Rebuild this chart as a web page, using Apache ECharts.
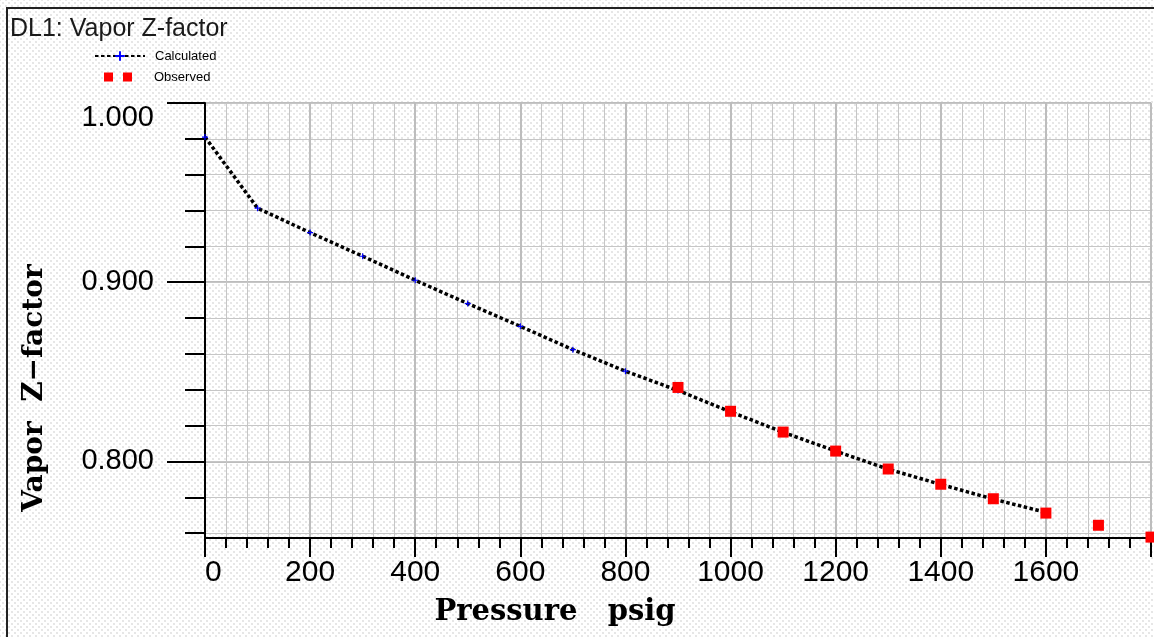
<!DOCTYPE html>
<html>
<head>
<meta charset="utf-8">
<script src="https://cdn.jsdelivr.net/npm/echarts@6/dist/echarts.min.js"></script>
<style>
html,body{margin:0;padding:0;width:1154px;height:637px;overflow:hidden;background:#fff;}
#wrap{position:relative;width:1154px;height:637px;background-color:#fff;
  background-image:radial-gradient(circle,#d9d9d9 0.6px,transparent 0.9px),radial-gradient(circle,#d9d9d9 0.6px,transparent 0.9px);
  background-size:6px 6px;background-position:0 0,3px 3px;}
#chart{position:absolute;left:0;top:0;width:1154px;height:637px;}
#frame{position:absolute;left:6px;top:7px;width:1200px;height:700px;border-left:2px solid #222;border-top:2px solid #222;pointer-events:none;}
</style>
</head>
<body>
<div id="wrap"><div id="chart"></div><div id="frame"></div></div>
<script>
// ---- data ----
const calcPressure = [0, 100, 200, 300, 400, 500, 600, 700, 800, 900, 1000, 1100, 1200, 1300, 1400, 1500, 1600];
const calcZ = [0.9810, 0.9413, 0.9277, 0.9145, 0.9011, 0.8881, 0.8754, 0.8624, 0.8504, 0.8396, 0.8277, 0.8163, 0.8058, 0.7957, 0.7872, 0.7790, 0.7716];
const obsPressure = [900, 1000, 1100, 1200, 1300, 1400, 1500, 1600, 1700, 1800];
const obsZ = [0.8413, 0.8280, 0.8164, 0.8058, 0.7958, 0.7873, 0.7792, 0.7712, 0.7644, 0.7578];
const xLabelValues = [0, 200, 400, 600, 800, 1000, 1200, 1400, 1600];
const yLabelValues = [0.8, 0.9, 1.0];
const yMinorValues = [0.76, 0.78, 0.80, 0.82, 0.84, 0.86, 0.88, 0.90, 0.92, 0.94, 0.96, 0.98, 1.0];
const xMin = 0, xMax = 1800, xMajorStep = 200;
const yMin = 0.7573, yMax = 1.0;

const chart = echarts.init(document.getElementById('chart'), null, {renderer: 'canvas'});
const plusPath = 'path://M2,0h1v5h-1z M0,2h5v1h-5z';
const sans = '"Liberation Sans", Arial, sans-serif';
const serif = '"DejaVu Serif", "Liberation Serif", serif';

const option = {
  backgroundColor: 'transparent',
  animation: false,
  title: {
    text: 'DL1: Vapor Z-factor', left: 10, top: 17, padding: 0,
    textStyle: {fontFamily: sans, fontSize: 25, fontWeight: 'normal', color: '#1a1a1a'}
  },
  legend: [
    {
      data: ['Calculated'], left: 94, top: 49.5, padding: 0, orient: 'vertical',
      itemWidth: 50, itemHeight: 12, selectedMode: false,
      textStyle: {fontFamily: sans, fontSize: 13, color: '#000', padding: [0, 0, 0, 5]}
    },
    {
      data: [{name: 'Observed', icon: 'path://M0,0h9v9h-9z M19,0h9v9h-9z'}], left: 104, top: 70.5, padding: 0,
      itemWidth: 28, itemHeight: 9, selectedMode: false,
      textStyle: {fontFamily: sans, fontSize: 13, color: '#000', padding: [0, 0, 0, 17]}
    }
  ],
  grid: {left: 205, top: 103, right: 3, bottom: 99, containLabel: false},
  xAxis: [{
    type: 'value', min: xMin, max: xMax, interval: xMajorStep,
    axisLine: {show: true, onZero: false, lineStyle: {color: '#000', width: 2}},
    axisTick: {show: true, length: 19, lineStyle: {color: '#000', width: 2}},
    minorTick: {show: true, splitNumber: 5, length: 10, lineStyle: {color: '#000', width: 2}},
    axisLabel: {
      customValues: xLabelValues, alignMinLabel: 'left',
      formatter: v => String(v),
      fontFamily: sans, fontSize: 30, color: '#000', margin: 20
    },
    splitLine: {show: true, lineStyle: {color: '#bdbdbd', width: 2}},
    minorSplitLine: {show: true, lineStyle: {color: '#c6c6c6', width: 1}}
  }],
  yAxis: [
    {
      type: 'value', min: yMin, max: yMax, position: 'left',
      axisLine: {show: true, onZero: false, lineStyle: {color: '#000', width: 2}},
      axisTick: {show: true, length: 38, customValues: yLabelValues, lineStyle: {color: '#000', width: 2}},
      axisLabel: {
        customValues: yLabelValues, verticalAlignMaxLabel: 'top',
        formatter: v => v.toFixed(3),
        fontFamily: sans, fontSize: 29, color: '#000', margin: 51
      },
      splitLine: {show: true, lineStyle: {color: '#bdbdbd', width: 2}}
    },
    {
      type: 'value', min: yMin, max: yMax, position: 'left',
      axisLine: {show: false},
      axisTick: {show: true, length: 20, customValues: yMinorValues, lineStyle: {color: '#000', width: 2}},
      axisLabel: {show: false},
      splitLine: {show: true, lineStyle: {color: '#c6c6c6', width: 1}}
    }
  ],
  graphic: [
    {
      type: 'text', x: 35, y: 388, rotation: Math.PI / 2, silent: true,
      style: {text: 'Vapor  Z\u2212factor', fontFamily: serif, fontSize: 28, fontWeight: 'bold', fill: '#000', align: 'center', verticalAlign: 'middle'}
    },
    {
      type: 'text', x: 555, y: 612, silent: true,
      style: {text: 'Pressure   psig', fontFamily: serif, fontSize: 29, fontWeight: 'bold', fill: '#000', align: 'center', verticalAlign: 'middle'}
    }
  ],
  series: [
    {
      name: 'Calculated', type: 'line', xAxisIndex: 0, yAxisIndex: 0,
      data: calcPressure.map((p, i) => [p, calcZ[i]]),
      symbol: plusPath, symbolSize: 6, showSymbol: true,
      itemStyle: {color: '#0000ff'},
      lineStyle: {color: '#000', width: 3.5, type: [3.5, 2.5]},
      z: 3
    },
    {
      name: 'Observed', type: 'scatter', xAxisIndex: 0, yAxisIndex: 0,
      data: obsPressure.map((p, i) => [p, obsZ[i]]),
      symbol: 'rect', symbolSize: 11,
      itemStyle: {color: '#ff0000', opacity: 1},
      z: 4
    }
  ]
};
chart.setOption(option);
</script>
</body>
</html>
